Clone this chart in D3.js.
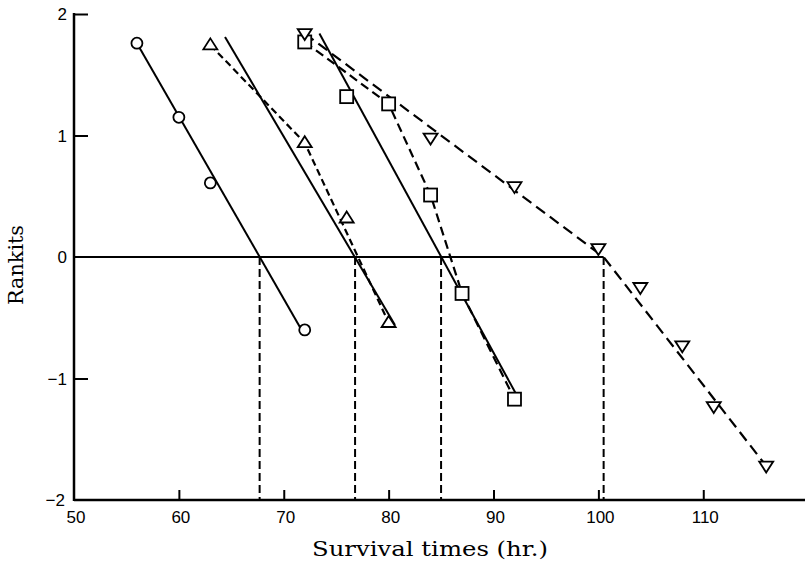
<!DOCTYPE html>
<html>
<head>
<meta charset="utf-8">
<script src="https://cdn.jsdelivr.net/npm/d3@7"></script>
<style>
  body { margin: 0; background: #fff; }
  .tick-label { font-family: "Liberation Sans", Arial, sans-serif; font-size: 17px; fill: #000; }
  .axis-title { font-family: "DejaVu Serif", serif; font-size: 21px; fill: #000; }
</style>
</head>
<body>
<svg width="805" height="564"></svg>
<script>
"use strict";

// observed survival times and their rankits, one pair of arrays per group
const circleX = [56, 60, 63, 72];
const circleY = [1.76, 1.15, 0.61, -0.6];

const triUpX = [63, 72, 76, 80];
const triUpY = [1.745, 0.94, 0.32, -0.54];

const squareX = [72, 76, 80, 84, 87, 92];
const squareY = [1.77, 1.32, 1.26, 0.51, -0.3, -1.17];

const triDownX = [72, 84, 92, 100, 104, 108, 111, 116];
const triDownY = [1.84, 0.98, 0.58, 0.07, -0.25, -0.73, -1.23, -1.72];

// fitted straight lines (solid), endpoints as [time, rankit]
const fitCircle = [[56, 1.76], [71.7, -0.6]];
const fitTriUp = [[64.4, 1.81], [80.6, -0.56]];
const fitSquare = [[73.4, 1.84], [92.1, -1.12]];

// broken lines (dashed)
const brokenTriUp = [[63, 1.745], [72, 0.94], [80, -0.54]];
const brokenSquare = [[72, 1.77], [80, 1.26], [84, 0.51], [87, -0.3], [92, -1.17]];
const brokenTriDown = [[72, 1.84], [100.5, 0], [116, -1.72]];

// median times read where each line crosses rankit 0
const medians = [67.7, 76.8, 85.0, 100.5];

const xTicks = [50, 60, 70, 80, 90, 100, 110];
const yTicks = [-2, -1, 0, 1, 2];

function createViz() {
  const svg = d3.select("svg");

  const x = d3.scaleLinear().domain([50, 119.7]).range([74, 805]);
  const y = d3.scaleLinear().domain([-2, 2]).range([500, 14]);

  const line = d3.line().x((d) => x(d[0])).y((d) => y(d[1]));

  // ticks point inward, so tickSizeInner is negative
  const xAxis = d3.axisBottom(x).tickValues(xTicks.slice(1)).tickSizeInner(-10).tickSizeOuter(0).tickFormat("");
  svg.append("g")
    .attr("transform", `translate(0, ${y(-2)})`)
    .call(xAxis)
    .call((g) => g.select(".domain").remove())
    .selectAll("line").attr("stroke", "#000").attr("stroke-width", 2);

  const yAxis = d3.axisLeft(y).tickValues([2, 1, -1]).tickSizeInner(-14).tickSizeOuter(0).tickFormat("");
  svg.append("g")
    .attr("transform", `translate(${x(50)}, 0)`)
    .call(yAxis)
    .call((g) => g.select(".domain").remove())
    .selectAll("line").attr("stroke", "#000").attr("stroke-width", 2);

  // axis lines
  svg.append("line")
    .attr("x1", x(50)).attr("x2", x(119.7))
    .attr("y1", y(-2)).attr("y2", y(-2))
    .attr("stroke", "#000").attr("stroke-width", 2.5);
  svg.append("line")
    .attr("x1", x(50)).attr("x2", x(50))
    .attr("y1", y(2) - 1).attr("y2", y(-2) + 1)
    .attr("stroke", "#000").attr("stroke-width", 2.5);

  // tick labels
  svg.selectAll("text.xlab")
    .data(xTicks)
    .enter()
    .append("text")
    .attr("class", "tick-label xlab")
    .attr("x", (d) => x(d) + 2)
    .attr("y", 523)
    .attr("text-anchor", "middle")
    .text((d) => d);

  svg.selectAll("text.ylab")
    .data(yTicks)
    .enter()
    .append("text")
    .attr("class", "tick-label ylab")
    .attr("x", (d) => (d === -2 ? 65 : 67))
    .attr("y", (d) => y(d) + 6)
    .attr("text-anchor", "end")
    .text((d) => (d < 0 ? "\u2212" + Math.abs(d) : d));

  // serif titles, stretched a bit to the width of the original lettering
  svg.append("text")
    .attr("class", "axis-title")
    .attr("x", 430)
    .attr("y", 556)
    .attr("text-anchor", "middle")
    .attr("textLength", 236)
    .attr("lengthAdjust", "spacingAndGlyphs")
    .text("Survival times (hr.)");

  svg.append("text")
    .attr("class", "axis-title")
    .attr("transform", `translate(23, 265) rotate(-90)`)
    .attr("text-anchor", "middle")
    .attr("textLength", 80)
    .attr("lengthAdjust", "spacingAndGlyphs")
    .text("Rankits");

  // zero line up to the last median, then dashed drops to the axis
  svg.append("line")
    .attr("x1", x(50)).attr("x2", x(d3.max(medians)))
    .attr("y1", y(0)).attr("y2", y(0))
    .attr("stroke", "#000").attr("stroke-width", 2);

  svg.selectAll("line.median")
    .data(medians)
    .enter()
    .append("line")
    .attr("class", "median")
    .attr("x1", (d) => x(d)).attr("x2", (d) => x(d))
    .attr("y1", y(0)).attr("y2", y(-2))
    .attr("stroke", "#000").attr("stroke-width", 2)
    .attr("stroke-dasharray", "8,4");

  // fitted solid lines
  [fitCircle, fitTriUp, fitSquare].forEach((pts) => {
    svg.append("path").attr("d", line(pts))
      .attr("fill", "none").attr("stroke", "#000").attr("stroke-width", 2);
  });

  // dashed broken lines
  const dashed = [
    [brokenTriUp, "7,4"],
    [brokenSquare, "9,5"],
    [brokenTriDown, "11,6"]
  ];
  dashed.forEach(([pts, dash]) => {
    svg.append("path").attr("d", line(pts))
      .attr("fill", "none").attr("stroke", "#000").attr("stroke-width", 2.2)
      .attr("stroke-dasharray", dash);
  });

  // markers
  const markStyle = (sel) => sel.attr("fill", "#fff").attr("stroke", "#000").attr("stroke-width", 1.8);

  svg.selectAll("circle.pt")
    .data(d3.zip(circleX, circleY))
    .enter()
    .append("circle")
    .attr("class", "pt")
    .attr("cx", (d) => x(d[0]))
    .attr("cy", (d) => y(d[1]))
    .attr("r", 5.5)
    .call(markStyle);

  svg.selectAll("rect.pt")
    .data(d3.zip(squareX, squareY))
    .enter()
    .append("rect")
    .attr("class", "pt")
    .attr("x", (d) => x(d[0]) - 6.5)
    .attr("y", (d) => y(d[1]) - 6.5)
    .attr("width", 13)
    .attr("height", 13)
    .call(markStyle);

  // triangles: s = half width, up or down
  const tri = (cx, cy, up) => {
    const s = 7, h = 11;
    return up
      ? `M${cx},${cy - h * 0.6}L${cx + s},${cy + h * 0.4}L${cx - s},${cy + h * 0.4}Z`
      : `M${cx},${cy + h * 0.6}L${cx + s},${cy - h * 0.4}L${cx - s},${cy - h * 0.4}Z`;
  };

  svg.selectAll("path.up")
    .data(d3.zip(triUpX, triUpY))
    .enter()
    .append("path")
    .attr("class", "up")
    .attr("d", (d) => tri(x(d[0]), y(d[1]), true))
    .call(markStyle);

  svg.selectAll("path.down")
    .data(d3.zip(triDownX, triDownY))
    .enter()
    .append("path")
    .attr("class", "down")
    .attr("d", (d) => tri(x(d[0]), y(d[1]), false))
    .call(markStyle);
}

createViz();
</script>
</body>
</html>
